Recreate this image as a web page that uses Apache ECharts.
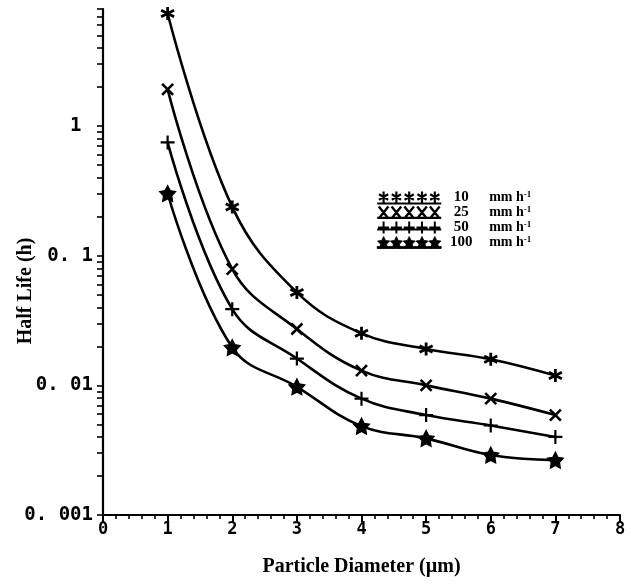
<!DOCTYPE html>
<html>
<head>
<meta charset="utf-8">
<script src="https://cdn.jsdelivr.net/npm/echarts@6/dist/echarts.min.js"></script>
<style>
html,body{margin:0;padding:0;background:#fff;}
#chart{width:631px;height:586px;}
</style>
</head>
<body>
<div id="chart"></div>
<script>
// ---- data ----
const xValues = [1, 2, 3, 4, 5, 6, 7];
const rate10  = [7.38, 0.238, 0.0521, 0.0252, 0.0191, 0.0159, 0.0119];
const rate25  = [1.92, 0.0789, 0.0272, 0.0130, 0.0100, 0.0079, 0.0059];
const rate50  = [0.748, 0.0387, 0.0161, 0.0079, 0.0059, 0.0049, 0.0040];
const rate100 = [0.302, 0.0196, 0.00975, 0.00485, 0.0039, 0.0029, 0.00265];
const seriesNames = ['10', '25', '50', '100'];
const yTickValues = [0.001, 0.01, 0.1, 1];
const yTickLabels = ['0. 001', '0. 01', '0. 1', '1 '];
const yMinorTicks = [0.001,0.002,0.003,0.004,0.005,0.006,0.007,0.008,0.009,
                     0.01,0.02,0.03,0.04,0.05,0.06,0.07,0.08,0.09,
                     0.1,0.2,0.3,0.4,0.5,0.6,0.7,0.8,0.9,
                     1,2,3,4,5,6,7,8];
const xTitle = 'Particle Diameter (\u00b5m)';
const yTitle = 'Half Life (h)';

// ---- symbols ----
const SYM_AST = 'path://M5,0L5,10M0.67,2.5L9.33,7.5M0.67,7.5L9.33,2.5';
const SYM_X = 'path://M0,0L10,10M0,10L10,0';
const SYM_PLUS = 'path://M5,0L5,10M0,5L10,5';
function starPts(cx, cy, R, r) {
  let s = '';
  for (let i = 0; i < 10; i++) {
    const a = -Math.PI / 2 + i * Math.PI / 5;
    const rr = i % 2 === 0 ? R : r;
    s += (i === 0 ? 'M' : 'L') + (cx + rr * Math.cos(a)).toFixed(2) + ',' + (cy + rr * Math.sin(a)).toFixed(2);
  }
  return s + 'Z';
}
const SYM_STAR = 'path://' + starPts(50, 50, 50, 26);

function legendIcon(kind) {
  const cs = [6.4, 19.2, 32, 44.8, 57.6];
  let p = '';
  cs.forEach(c => {
    if (kind === 'ast') p += `M${c},0.5L${c},10.5M${c-4.6},3L${c+4.6},8M${c-4.6},8L${c+4.6},3`;
    if (kind === 'x') p += `M${c-4.8},1L${c+4.8},11M${c-4.8},11L${c+4.8},1`;
    if (kind === 'plus') p += `M${c},0L${c},12M${c-5.5},6L${c+5.5},6`;
    if (kind === 'star') p += starPts(c, 6.2, 6.4, 3.2);
  });
  if (kind === 'ast') p += 'M0,11.5L64,11.5';
  if (kind === 'x') p += 'M0,10.5L64,10.5';
  if (kind === 'plus') p += 'M0,8L64,8';
  if (kind === 'star') p += 'M0,9.5L64,9.5L64,11.5L0,11.5Z';
  return 'path://' + p;
}

function mk(name, values, symbol, size, filled, bw) {
  return {
    name: name,
    type: 'line',
    smooth: 0.4,
    symbol: symbol,
    symbolSize: size,
    showSymbol: true,
    data: xValues.map((x, i) => [x, values[i]]),
    lineStyle: { color: '#000', width: 2.6 },
    itemStyle: filled ? { color: '#000', borderColor: '#000', borderWidth: bw }
                      : { color: 'transparent', borderColor: '#000', borderWidth: bw },
    emphasis: { disabled: true },
    z: 3
  };
}

const chart = echarts.init(document.getElementById('chart'), null, { renderer: 'canvas' });
const tickFont = 'DejaVu Sans Mono';
const serif = 'Liberation Serif';

const option = {
  animation: false,
  backgroundColor: '#fff',
  grid: { left: 103, right: 11, top: 9, bottom: 71, containLabel: false },
  xAxis: {
    type: 'value', min: 0, max: 8, interval: 1,
    name: xTitle, nameLocation: 'middle', nameGap: 42,
    nameTextStyle: { fontFamily: serif, fontWeight: 'bold', fontSize: 20, color: '#000' },
    axisLine: { lineStyle: { color: '#000', width: 2.2 } },
    axisTick: { length: 7, lineStyle: { color: '#000', width: 2 } },
    minorTick: { show: true, splitNumber: 5, length: 4, lineStyle: { color: '#000', width: 1.6 } },
    splitLine: { show: false },
    minorSplitLine: { show: false },
    axisLabel: { margin: 6, fontFamily: tickFont, fontWeight: 'bold', fontSize: 17, color: '#000' }
  },
  yAxis: {
    type: 'log', logBase: 10, min: 0.001, max: 8,
    axisLine: { onZero: false, lineStyle: { color: '#000', width: 2.2 } },
    axisTick: { length: 6, customValues: yMinorTicks, lineStyle: { color: '#000', width: 1.6 } },
    splitLine: { show: false },
    axisLabel: {
      margin: 10, customValues: yTickValues,
      fontFamily: tickFont, fontWeight: 'bold', fontSize: 19, color: '#000',
      formatter: function (v) {
        for (let i = 0; i < yTickValues.length; i++) {
          if (Math.abs(Math.log10(v) - Math.log10(yTickValues[i])) < 1e-6) return yTickLabels[i];
        }
        return '';
      }
    }
  },
  legend: {
    orient: 'vertical', left: 376, top: 190, padding: 0,
    itemWidth: 64, itemHeight: 12, itemGap: 0,
    symbolKeepAspect: false, selectedMode: false,
    data: [
      { name: '10', icon: legendIcon('ast'), itemStyle: { color: 'transparent', borderColor: '#000', borderWidth: 2.2 } },
      { name: '25', icon: legendIcon('x'), itemStyle: { color: 'transparent', borderColor: '#000', borderWidth: 2.4 } },
      { name: '50', icon: legendIcon('plus'), itemStyle: { color: 'transparent', borderColor: '#000', borderWidth: 2 } },
      { name: '100', icon: legendIcon('star'), itemStyle: { color: '#000', borderColor: '#000', borderWidth: 0.8 } }
    ],
    formatter: function (name) { return '{a|' + name + '}{b|mm h}{c|-1}'; },
    textStyle: {
      color: '#000',
      rich: {
        a: { width: 30, align: 'right', fontFamily: serif, fontWeight: 'bold', fontSize: 15, lineHeight: 12 },
        b: { padding: [0, 0, 0, 13], fontFamily: serif, fontWeight: 'bold', fontSize: 14, lineHeight: 12 },
        c: { fontFamily: serif, fontWeight: 'bold', fontSize: 9, lineHeight: 6, padding: [0, 0, 6, 0] }
      }
    }
  },
  graphic: [{
    type: 'text', x: 26, y: 291, rotation: Math.PI / 2,
    style: { text: yTitle, fill: '#000', font: 'bold 20px "Liberation Serif"', textAlign: 'center', textVerticalAlign: 'middle' }
  }],
  series: [
    mk(seriesNames[0], rate10, SYM_AST, 13, false, 2.8),
    mk(seriesNames[1], rate25, SYM_X, 11, false, 2.6),
    mk(seriesNames[2], rate50, SYM_PLUS, 14, false, 2.2),
    mk(seriesNames[3], rate100, SYM_STAR, 16, true, 1.2)
  ]
};
chart.setOption(option);
</script>
</body>
</html>
